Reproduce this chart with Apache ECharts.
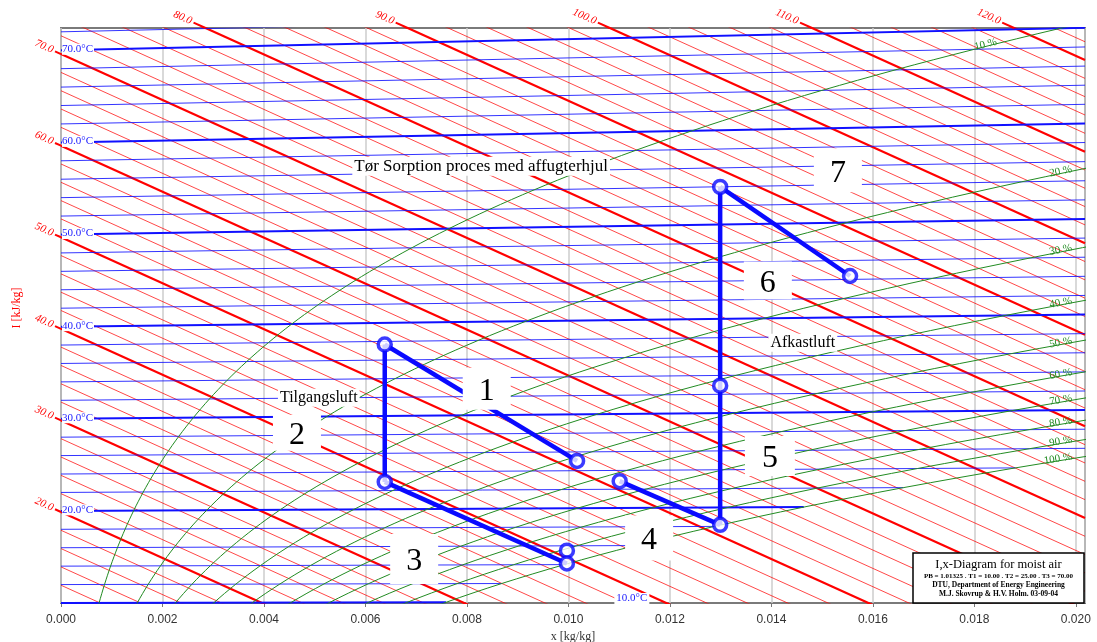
<!DOCTYPE html>
<html>
<head>
<meta charset="utf-8">
<script src="https://cdn.jsdelivr.net/npm/echarts@6/dist/echarts.min.js"></script>
<style>
  html, body { margin: 0; padding: 0; background: #fff; }
  #chart { width: 1097px; height: 642px; }
</style>
</head>
<body>
<div id="chart"></div>
<script>
// Chart frame (I,x diagram, skewed enthalpy axis: Y = I - skew * x)
const xMin = 0, xMax = 0.02018;
const yMin = 10.06, yMax = 72.85;
const skew = 2510;
const pressure = 101.325; // kPa

// Construction lines
const enthalpyLevels = [12, 14, 16, 18, 20, 22, 24, 26, 28, 30, 32, 34, 36, 38, 40, 42, 44, 46, 48, 50,
  52, 54, 56, 58, 60, 62, 64, 66, 68, 70, 72, 74, 76, 78, 80, 82, 84, 86, 88, 90, 92, 94, 96, 98, 100,
  102, 104, 106, 108, 110, 112, 114, 116, 118, 120, 122];
const isothermLevels = [10, 12, 14, 16, 18, 20, 22, 24, 26, 28, 30, 32, 34, 36, 38, 40, 42, 44, 46, 48,
  50, 52, 54, 56, 58, 60, 62, 64, 66, 68, 70, 72];
const humidityLevels = [10, 20, 30, 40, 50, 60, 70, 80, 90, 100];
const enthalpyLabelLevels = [20, 30, 40, 50, 60, 70, 80, 90, 100, 110, 120];
const isothermLabelLevels = [20, 30, 40, 50, 60, 70];

// Process states: x [kg/kg], I [kJ/kg]
const stateNames = ['A', 'B', 'C', 'D1', 'D2', 'E', 'F', 'G', 'H', 'K'];
const stateX = [0.00638, 0.00638, 0.01017, 0.00997, 0.00997, 0.01101, 0.01299, 0.01299, 0.01299, 0.01555];
const stateI = [54.3, 39.3, 51.1, 40.8, 39.4, 51.0, 51.2, 66.4, 88.1, 84.8];
const processPaths = [['A', 'B'], ['A', 'C'], ['B', 'D2'], ['E', 'F'], ['F', 'H'], ['H', 'K']];

// Numbered boxes and notes (x, Y in chart coordinates)
const boxLabels = ['1', '2', '3', '4', '5', '6', '7'];
const boxX = [0.00839, 0.00465, 0.00696, 0.01159, 0.01397, 0.01393, 0.01531];
const boxY = [33.45, 28.64, 14.86, 17.16, 26.11, 45.27, 57.31];
const noteTexts = ['Tør Sorption proces med affugterhjul', 'Tilgangsluft', 'Afkastluft'];
const noteX = [0.00828, 0.00508, 0.01462];
const noteY = [57.75, 32.47, 38.49];
const infoLines = ['I,x-Diagram for moist air', 'PB = 1.01325 . T1 = 10.00 . T2 = 25.00 . T3 = 70.00',
  'DTU, Department of Energy Engineering', 'M.J. Skovrup & H.V. Holm. 03-09-04'];

function psat(t) { return 0.1333224 * Math.pow(10, 8.07131 - 1730.63 / (233.426 + t)); }
function enthalpy(t, x) { return 1.006 * t + x * (2501 + 1.86 * t); }
function xOf(t, phi) { const p = phi * psat(t); return 0.622 * p / (pressure - p); }
function skewed(I, x) { return I - skew * x; }

const chart = echarts.init(document.getElementById('chart'));
const series = [];

// isenthalps
enthalpyLevels.forEach(I => {
  const major = I % 10 === 0;
  series.push({
    type: 'line', silent: true, symbol: 'none', animation: false, z: 2,
    lineStyle: { color: '#ff0000', width: major ? 2.2 : 1, opacity: major ? 1 : 0.72 },
    data: [[xMin, I], [xMax, skewed(I, xMax)]]
  });
});

// isotherms, ending at saturation
isothermLevels.forEach(t => {
  const major = t % 10 === 0;
  const xe = Math.min(xOf(t, 1), xMax);
  series.push({
    type: 'line', silent: true, symbol: 'none', animation: false, z: 3,
    lineStyle: { color: '#1010ff', width: major ? 2 : 1, opacity: major ? 1 : 0.85 },
    data: [[0, skewed(enthalpy(t, 0), 0)], [xe, skewed(enthalpy(t, xe), xe)]]
  });
});

// relative humidity curves
const rhCurves = humidityLevels.map(rh => {
  const pts = [];
  for (let t = 5; t <= 90; t += 0.5) {
    const x = xOf(t, rh / 100);
    const y = skewed(enthalpy(t, x), x);
    pts.push([x, y]);
    if (x > xMax || y > yMax) break;
  }
  series.push({
    type: 'line', silent: true, symbol: 'none', animation: false, z: 4,
    lineStyle: { color: '#228b22', width: 1 },
    data: pts
  });
  return pts;
});

// process lines
const stateData = name => {
  const i = stateNames.indexOf(name);
  return [stateX[i], skewed(stateI[i], stateX[i])];
};
processPaths.forEach(p => {
  series.push({
    type: 'line', silent: true, symbol: 'none', animation: false, z: 6,
    lineStyle: { color: '#0a0aff', width: 4.5 },
    data: p.map(stateData)
  });
});
series.push({
  type: 'scatter', silent: true, animation: false, z: 7,
  symbol: 'circle', symbolSize: 13,
  itemStyle: { color: '#fff', borderColor: '#0a0aff', borderWidth: 3.5 },
  data: stateNames.map(stateData)
});

chart.setOption({
  animation: false,
  grid: { left: 61, right: 12, top: 28, bottom: 39, outerBoundsMode: 'none', containLabel: false,
    show: true, borderColor: '#7a7a7a', borderWidth: 2, backgroundColor: '#fff' },
  xAxis: {
    type: 'value', min: xMin, max: xMax, interval: 0.002,
    axisLine: { show: false },
    axisTick: { show: true, length: 4, lineStyle: { color: '#777' } },
    axisLabel: { color: '#333', fontSize: 12, fontFamily: 'Liberation Sans', margin: 11,
      formatter: v => v.toFixed(3), showMaxLabel: false },
    splitLine: { show: true, lineStyle: { color: '#cccccc', width: 1.5 } },
    name: 'x [kg/kg]', nameLocation: 'middle', nameGap: 27,
    nameTextStyle: { color: '#333', fontSize: 12, fontFamily: 'Liberation Serif' }
  },
  yAxis: {
    type: 'value', min: yMin, max: yMax,
    axisLine: { show: false }, axisTick: { show: false }, axisLabel: { show: false },
    splitLine: { show: false }
  },
  series: series
});

// ---- annotations placed through the axes ----
const toPx = (x, y) => chart.convertToPixel({ gridIndex: 0 }, [x, y]);
const graphics = [];
const slope = -0.42;

enthalpyLabelLevels.forEach(I => {
  let p, dx;
  if (I <= yMax) { p = toPx(0, I); dx = 6; }
  else { p = toPx((I - yMax) / skew, yMax); dx = 12; }
  graphics.push({
    type: 'line', z: 50, silent: true,
    shape: { x1: p[0] - dx, y1: p[1] - dx * 0.45, x2: p[0], y2: p[1] },
    style: { stroke: '#ff0000', lineWidth: 2 }
  });
  graphics.push({
    type: 'text', z: 50, silent: true, x: p[0] - dx - 2, y: p[1] - dx * 0.45 - 1, rotation: slope,
    style: { text: I.toFixed(1), fill: '#ff0000', font: 'italic 11px "Liberation Serif"', align: 'right', verticalAlign: 'middle' }
  });
});

isothermLabelLevels.forEach(t => {
  const p = toPx(0, skewed(enthalpy(t, 0), 0));
  graphics.push({
    type: 'text', z: 50, silent: true, x: p[0] + 1, y: p[1] - 1,
    style: { text: t.toFixed(1) + '°C', fill: '#2020ff', font: '11px "Liberation Serif"', align: 'left', verticalAlign: 'middle',
      backgroundColor: '#fff', padding: [0, 1, 0, 0] }
  });
});
{
  const p = toPx(0.01125, yMin);
  graphics.push({
    type: 'text', z: 50, silent: true, x: p[0], y: p[1] + 1,
    style: { text: '10.0°C', fill: '#2020ff', font: '11px "Liberation Serif"', align: 'center', verticalAlign: 'bottom',
      backgroundColor: '#fff', padding: [0, 2, 0, 2] }
  });
}

// humidity labels near where each curve leaves the frame
const gridRight = toPx(xMax, yMax)[0], gridTop = toPx(xMax, yMax)[1];
rhCurves.forEach((pts, k) => {
  const pp = pts.map(d => toPx(d[0], d[1]));
  let ex = null, ey = null, top = false;
  for (let i = 1; i < pp.length; i++) {
    const a = pp[i - 1], b = pp[i];
    if (b[0] > gridRight || b[1] < gridTop) {
      let f = 1;
      if (b[0] > gridRight) f = Math.min(f, (gridRight - a[0]) / (b[0] - a[0]));
      if (b[1] < gridTop) { const g = (gridTop - a[1]) / (b[1] - a[1]); if (g < f) { f = g; top = true; } }
      ex = a[0] + f * (b[0] - a[0]); ey = a[1] + f * (b[1] - a[1]);
      break;
    }
  }
  if (ex === null) return;
  const target = top ? ex - 65 : ex - 13;
  let lx = target, ly = ey, ang = 0;
  for (let i = 1; i < pp.length; i++) {
    const a = pp[i - 1], b = pp[i];
    if (b[0] >= target) {
      const f = (target - a[0]) / (b[0] - a[0]);
      ly = a[1] + f * (b[1] - a[1]);
      ang = Math.atan2(-(b[1] - a[1]), b[0] - a[0]);
      break;
    }
  }
  graphics.push({
    type: 'text', z: 50, silent: true, x: lx, y: ly - 2, rotation: ang,
    style: { text: humidityLevels[k] + ' %', fill: '#228b22', font: '11px "Liberation Serif"', align: 'right', verticalAlign: 'middle' }
  });
});

// numbered white boxes
const boxW = [48, 48, 48, 48, 50, 48, 48];
const boxH = [42, 36, 50, 45, 40, 38, 44];
boxLabels.forEach((s, i) => {
  const p = toPx(boxX[i], boxY[i]);
  graphics.push({
    type: 'rect', z: 60, silent: true,
    shape: { x: p[0] - boxW[i] / 2, y: p[1] - boxH[i] / 2, width: boxW[i], height: boxH[i] },
    style: { fill: '#fff' }
  });
  graphics.push({
    type: 'text', z: 61, silent: true, x: p[0], y: p[1] + 3,
    style: { text: s, fill: '#000', font: '32px "Liberation Serif"', align: 'center', verticalAlign: 'middle' }
  });
});

noteTexts.forEach((s, i) => {
  const p = toPx(noteX[i], noteY[i]);
  graphics.push({
    type: 'text', z: 60, silent: true, x: p[0], y: p[1],
    style: { text: s, fill: '#000', font: (i === 0 ? 17 : 16) + 'px "Liberation Serif"', align: 'center', verticalAlign: 'middle',
      backgroundColor: '#fff', padding: [1, 2, 1, 2] }
  });
});

// y axis title
graphics.push({
  type: 'text', z: 50, silent: true, x: 17, y: 308, rotation: Math.PI / 2,
  style: { text: 'I [kJ/kg]', fill: '#ff0000', font: '12px "Liberation Serif"', align: 'center', verticalAlign: 'middle' }
});

// info box
const infoFonts = ['12.5px "Liberation Serif"', 'bold 7px "Liberation Serif"', 'bold 7.5px "Liberation Serif"', 'bold 7.5px "Liberation Serif"'];
const infoOffsets = [12, 23, 32, 41];
graphics.push({
  type: 'rect', z: 60, silent: true,
  shape: { x: 913, y: 553, width: 171, height: 50 },
  style: { fill: '#fff', stroke: '#000', lineWidth: 1.5 }
});
infoLines.forEach((s, i) => {
  graphics.push({
    type: 'text', z: 61, silent: true, x: 998.5, y: 553 + infoOffsets[i],
    style: { text: s, fill: '#000', font: infoFonts[i], align: 'center', verticalAlign: 'middle' }
  });
});

chart.setOption({ graphic: graphics });
</script>
</body>
</html>
